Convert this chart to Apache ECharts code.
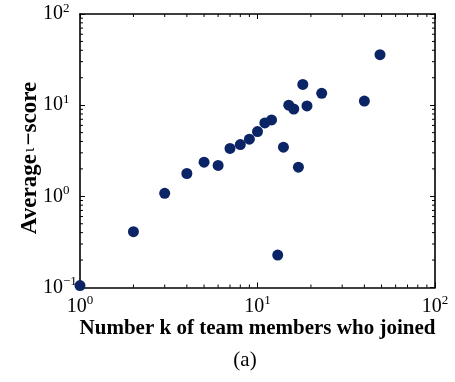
<!DOCTYPE html>
<html>
<head>
<meta charset="utf-8">
<script src="https://cdn.jsdelivr.net/npm/echarts@6/dist/echarts.min.js"></script>
<style>
  html, body { margin: 0; padding: 0; background: #ffffff; }
  #chart { width: 455px; height: 382px; }
</style>
</head>
<body>
<div id="chart"></div>
<script>
// Team size k and the average score of the teams of that size
const teamSizes = [1, 2, 3, 4, 5, 6, 7, 8, 9, 10, 11, 12, 13, 14, 15, 16, 17, 18, 19, 23, 40, 49];
const avgScores = [0.105, 0.41, 1.08, 1.78, 2.37, 2.18, 3.35, 3.70, 4.23, 5.14, 6.38, 6.89,
                   0.227, 3.46, 10.0, 9.08, 2.09, 16.9, 9.8, 13.5, 11.1, 35.8];

// Axis ranges (decades) and the minor tick values of each log axis
const xRange = [1, 100];
const yRange = [0.1, 100];
const xMinorTicks = [2, 3, 4, 5, 6, 7, 8, 9, 20, 30, 40, 50, 60, 70, 80, 90];
const yMinorTicks = [0.2, 0.3, 0.4, 0.5, 0.6, 0.7, 0.8, 0.9, 2, 3, 4, 5, 6, 7, 8, 9,
                     20, 30, 40, 50, 60, 70, 80, 90];

const FONT = '"Liberation Serif", "Times New Roman", serif';
const DOT = '#0b2465';

// "10" with the exponent set as a superscript
function powerLabel(v) {
  const e = Math.round(Math.log10(v));
  return '{b|10}{s|' + (e < 0 ? '\u2212' + (-e) : e) + '}';
}
const powerRich = {
  b: { fontFamily: FONT, fontSize: 20, lineHeight: 24, color: '#000' },
  s: { fontFamily: FONT, fontSize: 13, verticalAlign: 'top', color: '#000' }
};

const frameLine = { show: true, lineStyle: { color: '#000', width: 1.6 } };
const majorTick = { show: true, inside: true, length: 5, lineStyle: { color: '#000', width: 1 } };

function minorTickLine(x1, y1, x2, y2) {
  return { type: 'line', shape: { x1, y1, x2, y2 }, style: { stroke: '#000', lineWidth: 1 } };
}

const chart = echarts.init(document.getElementById('chart'));
chart.setOption({
  animation: false,
  backgroundColor: '#ffffff',
  grid: { left: 80, right: 20, top: 14, bottom: 94.5, containLabel: false },
  xAxis: [
    {
      type: 'log', logBase: 10, min: xRange[0], max: xRange[1], position: 'bottom',
      axisLine: frameLine, axisTick: majorTick, splitLine: { show: false },
      axisLabel: { formatter: powerLabel, rich: powerRich, margin: 7 }
    },
    {
      type: 'log', logBase: 10, min: xRange[0], max: xRange[1], position: 'top',
      axisLine: frameLine, axisTick: majorTick, splitLine: { show: false },
      axisLabel: { show: false }
    }
  ],
  yAxis: [
    {
      type: 'log', logBase: 10, min: yRange[0], max: yRange[1], position: 'left',
      axisLine: frameLine, axisTick: majorTick, splitLine: { show: false },
      axisLabel: { formatter: powerLabel, rich: powerRich, margin: 37, align: 'left' }
    },
    {
      type: 'log', logBase: 10, min: yRange[0], max: yRange[1], position: 'right',
      axisLine: frameLine, axisTick: majorTick, splitLine: { show: false },
      axisLabel: { show: false }
    }
  ],
  graphic: [
    {
      type: 'text', x: 257.5, y: 318,
      style: {
        text: 'Number k of team members who joined',
        font: 'bold 21px ' + FONT, fill: '#000', align: 'center', verticalAlign: 'top'
      }
    },
    {
      type: 'text', x: 30, y: 158, rotation: Math.PI / 2,
      style: {
        text: '{a|Average}{i|\u03b9}{a|\u2212score}',
        align: 'center', verticalAlign: 'middle',
        rich: {
          a: { fontFamily: FONT, fontWeight: 'bold', fontSize: 23, color: '#000' },
          i: { fontFamily: FONT, fontSize: 17, color: '#000', padding: [0, 2, 0, 2] }
        }
      }
    },
    {
      type: 'text', x: 245, y: 360,
      style: { text: '(a)', font: '21px ' + FONT, fill: '#000', align: 'center', verticalAlign: 'middle' }
    }
  ],
  series: [
    {
      // minor ticks along the bottom and top edges
      type: 'custom', xAxisIndex: 0, yAxisIndex: 0, silent: true, clip: false,
      data: xMinorTicks.map(v => [v, yRange[0]]),
      renderItem: function (params, api) {
        const v = api.value(0);
        const b = api.coord([v, yRange[0]]);
        const t = api.coord([v, yRange[1]]);
        return { type: 'group', children: [
          minorTickLine(b[0], b[1], b[0], b[1] - 3),
          minorTickLine(t[0], t[1], t[0], t[1] + 3)
        ] };
      }
    },
    {
      // minor ticks along the left and right edges
      type: 'custom', xAxisIndex: 0, yAxisIndex: 0, silent: true, clip: false,
      data: yMinorTicks.map(v => [xRange[0], v]),
      renderItem: function (params, api) {
        const v = api.value(1);
        const l = api.coord([xRange[0], v]);
        const r = api.coord([xRange[1], v]);
        return { type: 'group', children: [
          minorTickLine(l[0], l[1], l[0] + 3, l[1]),
          minorTickLine(r[0], r[1], r[0] - 3, r[1])
        ] };
      }
    },
    {
      type: 'scatter', xAxisIndex: 0, yAxisIndex: 0, clip: false, z: 5,
      symbol: 'circle', symbolSize: 11,
      itemStyle: { color: DOT, opacity: 1 },
      data: teamSizes.map((k, i) => [k, avgScores[i]])
    }
  ]
});
</script>
</body>
</html>
